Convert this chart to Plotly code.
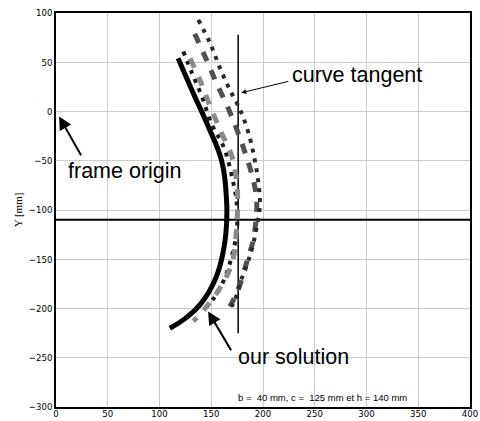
import plotly.graph_objects as go

# Curves (x, y in mm)
solid_x = [118, 132, 147, 160, 164.5, 165, 162, 154, 140, 125, 110]
solid_y = [54, 20, -15, -50, -85, -110, -140, -170, -195, -210, -220]

dotA_x = [123, 131, 141, 150, 162, 170, 174.6, 174.6, 170, 165, 160, 153.6, 141]
dotA_y = [61, 40, 15, -12, -36, -66, -93, -123, -146, -164, -176, -188, -203]

grayB_x = [129.5, 139, 149, 160, 170, 175, 174.6, 170, 158.5, 145.6, 132.7]
grayB_y = [54, 32, 5, -22, -46, -76, -117, -154, -179, -198, -213]

darkC_x = [134, 145.6, 155, 166.5, 176, 184, 191, 194, 190.6, 184, 176, 168]
darkC_y = [79, 52, 29, 3, -22, -46, -71, -93, -130, -154, -181, -198]

dotD_x = [137.5, 149, 158.5, 168, 178, 186, 192, 196, 197, 194, 189, 182.6, 177.8, 173, 169.6]
dotD_y = [93, 69, 44, 22, 1.5, -22, -49, -76, -95, -117, -140.6, -161, -174, -191, -198]

tangent_x = [176, 176]
tangent_y = [-225, 78]
horiz_x = [0, 400]
horiz_y = [-110, -110]

x_ticks = [0, 50, 100, 150, 200, 250, 300, 350, 400]
y_ticks = [100, 50, 0, -50, -100, -150, -200, -250, -300]

fig = go.Figure()
fig.add_trace(go.Scatter(x=horiz_x, y=horiz_y, mode="lines", line=dict(color="black", width=2)))
fig.add_trace(go.Scatter(x=tangent_x, y=tangent_y, mode="lines", line=dict(color="black", width=1.5)))
fig.add_trace(go.Scatter(x=solid_x, y=solid_y, mode="lines", line=dict(color="black", width=5, shape="spline", smoothing=1.3)))
fig.add_trace(go.Scatter(x=dotA_x, y=dotA_y, mode="lines", line=dict(color="#1a1a1a", width=4, dash="4px,6px", shape="spline")))
fig.add_trace(go.Scatter(x=grayB_x, y=grayB_y, mode="lines", line=dict(color="#8a8a8a", width=5, dash="10px,10px", shape="spline")))
fig.add_trace(go.Scatter(x=darkC_x, y=darkC_y, mode="lines", line=dict(color="#505050", width=5, dash="10px,10px", shape="spline")))
fig.add_trace(go.Scatter(x=dotD_x, y=dotD_y, mode="lines", line=dict(color="#2a2a2a", width=4, dash="4px,6px", shape="spline")))

big = dict(family="Liberation Sans, Arial, sans-serif", size=21.5, color="black")
fig.add_annotation(x=179, y=19, ax=226, ay=31, xref="x", yref="y", axref="x", ayref="y",
                   text="", showarrow=True, arrowhead=2, arrowsize=1, arrowwidth=1, arrowcolor="black")
fig.add_annotation(x=226, y=37, xref="x", yref="y", text="curve tangent", showarrow=False,
                   xanchor="left", yanchor="middle", font=big)
fig.add_annotation(x=3, y=-5, ax=25, ay=-46, xref="x", yref="y", axref="x", ayref="y",
                   text="", showarrow=True, arrowhead=2, arrowsize=1.3, arrowwidth=2, arrowcolor="black")
fig.add_annotation(x=10, y=-60, xref="x", yref="y", text="frame origin", showarrow=False,
                   xanchor="left", yanchor="middle", font=big)
fig.add_annotation(x=147, y=-203, ax=170, ay=-244, xref="x", yref="y", axref="x", ayref="y",
                   text="", showarrow=True, arrowhead=2, arrowsize=1.3, arrowwidth=2, arrowcolor="black")
fig.add_annotation(x=174, y=-249, xref="x", yref="y", text="our solution", showarrow=False,
                   xanchor="left", yanchor="middle", font=big)
fig.add_annotation(x=174, y=-290, xref="x", yref="y", text="b =  40 mm, c =  125 mm et h = 140 mm",
                   showarrow=False, xanchor="left", yanchor="middle",
                   font=dict(family="Liberation Sans, Arial, sans-serif", size=9.5, color="black"))

tickfont = dict(family="Liberation Sans Narrow, DejaVu Sans Condensed, sans-serif", size=9.5, color="black")
fig.update_xaxes(range=[0, 400], tickvals=x_ticks, showgrid=True, gridcolor="#cccccc", gridwidth=1,
                 showline=True, linecolor="black", linewidth=1.5, mirror=True, zeroline=False,
                 ticks="", tickfont=tickfont, automargin=False, ticklabelstandoff=-3,
                 ticklabeloverflow="allow")
fig.update_yaxes(range=[-300, 100], tickvals=y_ticks, showgrid=True, gridcolor="#cccccc", gridwidth=1,
                 showline=True, linecolor="black", linewidth=1.5, mirror=True, zeroline=False,
                 ticks="", tickfont=tickfont, automargin=False, ticklabeloverflow="allow",
                 title=dict(text="Y [mm]", font=dict(family="Liberation Serif, serif", size=11, color="black"), standoff=4))
fig.update_layout(width=480, height=421, margin=dict(l=56, r=10, t=13, b=14),
                  plot_bgcolor="white", paper_bgcolor="white", showlegend=False)
fig.write_html("out.html", post_script="document.body.style.margin='0';",
               config={"displayModeBar": False})
